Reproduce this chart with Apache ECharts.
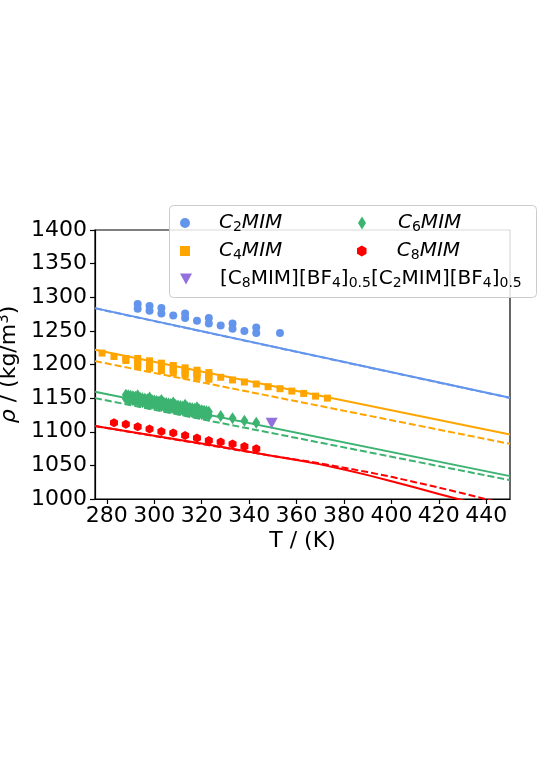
<!DOCTYPE html>
<html><head><meta charset="utf-8">
<script src="https://cdn.jsdelivr.net/npm/echarts@6/dist/echarts.min.js"></script>
<style>html,body{margin:0;padding:0;background:#fff}#c{width:538px;height:760px}</style>
</head><body><div id="c"></div>
<script>
// ---- data ----
const xTicks = [280, 300, 320, 340, 360, 380, 400, 420, 440];
const yTicks = [1000, 1050, 1100, 1150, 1200, 1250, 1300, 1350, 1400];

const c2T   = [293, 293, 298, 298, 303, 303, 308, 313, 313, 318, 323, 323, 328, 333, 333, 338, 343, 343, 353];
const c2Rho = [1290, 1283, 1287, 1280, 1284, 1276, 1273, 1276, 1269, 1265, 1269, 1261, 1258, 1261, 1253, 1250, 1255, 1247, 1247];

const c4T   = [278, 283, 288, 288,
  293, 293, 293, 293, 298, 298, 298, 298, 303, 303, 303, 303, 308, 308, 308, 308,
  313, 313, 313, 313, 318, 318, 318, 318, 323, 323, 323, 323,
  328, 333, 338, 343, 348, 353, 358, 363, 368, 373];
const c4Rho = [1217, 1212, 1209, 1206,
  1209, 1205, 1201, 1198, 1205.5, 1201.5, 1198, 1194.5, 1202, 1198, 1194.5, 1191, 1198.5, 1194.5, 1191, 1187.5,
  1195, 1191, 1187.5, 1184, 1191.5, 1188, 1184.5, 1181, 1188, 1184.5, 1181, 1178,
  1181, 1177, 1174, 1171, 1167, 1164, 1160.5, 1157, 1153, 1150];

const c6T = [288, 288, 289, 289, 290, 290, 291, 291, 292, 292, 293, 293, 293, 294, 294, 295, 295,
  296, 296, 297, 297, 298, 298, 298, 299, 299, 300, 300, 301, 301, 302, 302, 303, 303, 303,
  304, 304, 305, 305, 306, 306, 307, 307, 308, 308, 308, 309, 309, 310, 310, 311, 311, 312, 312,
  313, 313, 313, 314, 314, 315, 315, 316, 316, 317, 317, 318, 318, 318, 319, 319, 320, 320,
  321, 321, 322, 322, 323, 323, 328, 333, 338, 343];
const c6Rho = [1155.0, 1149.0, 1154.3, 1148.3, 1153.6, 1147.6, 1152.8, 1146.8, 1152.1, 1146.1, 1154.4, 1151.4, 1145.4,
  1150.7, 1144.7, 1150.0, 1144.0, 1149.2, 1143.2, 1148.5, 1142.5, 1150.8, 1147.8, 1141.8, 1147.1, 1141.1,
  1146.4, 1140.4, 1145.6, 1139.6, 1144.9, 1138.9, 1147.2, 1144.2, 1138.2, 1143.5, 1137.5, 1142.8, 1136.8,
  1142.0, 1136.0, 1141.3, 1135.3, 1143.6, 1140.6, 1134.6, 1139.9, 1133.9, 1139.2, 1133.2, 1138.4, 1132.4,
  1137.7, 1131.7, 1140.0, 1137.0, 1131.0, 1136.3, 1130.3, 1135.6, 1129.6, 1134.8, 1128.8, 1134.1, 1128.1,
  1136.4, 1133.4, 1127.4, 1132.7, 1126.7, 1132.0, 1126.0, 1131.2, 1125.2, 1130.5, 1124.5, 1129.8, 1123.8,
  1123.4, 1120, 1116.5, 1113.5];

const c8T   = [283, 288, 293, 298, 303, 308, 313, 318, 323, 328, 333, 338, 343];
const c8Rho = [1113.5, 1111, 1107.6, 1104, 1100.5, 1098, 1094.5, 1090.6, 1087, 1084.6, 1081.7, 1078, 1074.6];

const mixT   = [349.5];
const mixRho = [1112.6];

const fitT = [275, 450];
const c2Fit = [1283.8, 1150.7];
const c2FitDash = [1283.5, 1150.3];
const c4Fit = [1222, 1096];
const c4FitDash = [1205, 1082];
const c6Fit = [1159.6, 1034];
const c6FitDash = [1150, 1028];
const c8FitT = [275, 300, 325, 350, 360, 370, 380, 390, 400, 410, 420, 428, 450];
const c8Fit  = [1108.5, 1094, 1079.5, 1064, 1058, 1051.5, 1044, 1035.5, 1026.5, 1017, 1007.5, 1000, 979];
const c8FitDashT = [275, 350, 360, 370, 380, 390, 400, 410, 420, 430, 440, 450];
const c8FitDash  = [1108.5, 1064, 1058.5, 1053, 1046.5, 1040, 1033, 1025, 1017, 1008.5, 999.5, 991];

const legendText = {
  C2MIM: '{g|}{i|C}{s|2}{i|MIM}',
  C4MIM: '{g|}{i|C}{s|4}{i|MIM}',
  C6MIM: '{g|}{i|C}{s|6}{i|MIM}',
  C8MIM: '{g|}{i|C}{s|8}{i|MIM}',
  mix: '{g|}{r|[C}{s|8}{r|MIM][BF}{s|4}{r|]}{s|0.5}{r|[C}{s|2}{r|MIM][BF}{s|4}{r|]}{s|0.5}'
};

// ---- styles ----
const FONT = 'DejaVu Sans';
const colors = {C2MIM: '#6495ED', C4MIM: '#FFA500', C6MIM: '#3CB371', C8MIM: '#FF0000', mix: '#9370DB'};
const hexagon = 'path://M0,-1 L0.866,-0.5 L0.866,0.5 L0,1 L-0.866,0.5 L-0.866,-0.5 Z';
const triDown = 'path://M0,0 L10,0 L5,9 Z';

const zip = (a, b) => a.map((v, i) => [v, b[i]]);

function fitLine(xs, ys, color, dashed) {
  return {
    type: 'line', data: zip(xs, ys), showSymbol: false, symbol: 'none', silent: true,
    lineStyle: {color: color, width: 2, type: dashed ? [7, 3] : 'solid'},
    z: 2, animation: false, clip: true
  };
}
function scat(name, xs, ys, symbol, size) {
  return {
    type: 'scatter', name: name, data: zip(xs, ys), symbol: symbol, symbolSize: size,
    itemStyle: {color: colors[name], opacity: 1}, z: 3, animation: false
  };
}
function legendItem(name, left, top, w, h, gap) {
  return {
    data: [name], left: left, top: top, padding: 0, itemWidth: w, itemHeight: h, itemGap: 0,
    selectedMode: false, z: 6,
    formatter: n => legendText[n],
    textStyle: {
      fontFamily: FONT, color: '#000',
      rich: {
        g: {width: gap},
        i: {fontStyle: 'italic', fontSize: 20, fontFamily: FONT, color: '#000'},
        r: {fontSize: 20, fontFamily: FONT, color: '#000'},
        s: {fontSize: 14, fontFamily: FONT, color: '#000', padding: [9, 0, 0, 0]}
      }
    }
  };
}

const chart = echarts.init(document.getElementById('c'), null, {renderer: 'canvas'});
chart.setOption({
  animation: false,
  backgroundColor: '#fff',
  grid: {left: 95, right: 28, top: 230, bottom: 261, containLabel: false, outerBoundsMode: 'none',
         show: true, borderColor: '#000', borderWidth: 1.2, backgroundColor: 'transparent'},
  xAxis: {
    type: 'value', min: 275, max: 450,
    name: 'T / (K)', nameLocation: 'middle', nameGap: 31,
    nameTextStyle: {fontFamily: FONT, fontSize: 22, color: '#000'},
    axisLine: {show: true, lineStyle: {color: '#000', width: 1.2}},
    axisTick: {show: true, length: 5, lineStyle: {color: '#000', width: 1.2}, customValues: xTicks},
    axisLabel: {fontFamily: FONT, fontSize: 22, color: '#000', margin: 6, customValues: xTicks,
                formatter: v => String(v)},
    splitLine: {show: false}
  },
  yAxis: {
    type: 'value', min: 1000, max: 1400, interval: 50,
    name: '{it|ρ} / (kg/m{sup|3})', nameLocation: 'middle', nameGap: 64, nameRotate: 90,
    nameTextStyle: {fontFamily: FONT, fontSize: 22, color: '#000',
      rich: {it: {fontStyle: 'italic', fontSize: 22, fontFamily: FONT, color: '#000'},
             sup: {fontSize: 15, fontFamily: FONT, color: '#000', padding: [0, 0, 10, 0]}}},
    axisLine: {show: true, lineStyle: {color: '#000', width: 1.2}},
    axisTick: {show: true, length: 5, lineStyle: {color: '#000', width: 1.2}, customValues: yTicks},
    axisLabel: {fontFamily: FONT, fontSize: 22, color: '#000', margin: 8, customValues: yTicks,
                formatter: v => String(v)},
    splitLine: {show: false}
  },
  graphic: [{
    type: 'rect', left: 169, top: 205, z: 5,
    shape: {width: 367, height: 92, r: 4},
    style: {fill: 'rgba(255,255,255,0.85)', stroke: '#cccccc', lineWidth: 1}
  }],
  legend: [
    legendItem('C2MIM', 180, 213, 10, 10, 24),
    legendItem('C6MIM', 358, 213, 8, 13, 27),
    legendItem('C4MIM', 180, 241, 10, 10, 24),
    legendItem('C8MIM', 357, 241, 10, 11, 25),
    legendItem('mix', 180, 269, 12, 11, 23)
  ],
  series: [
    fitLine(fitT, c2Fit, colors.C2MIM, false),
    fitLine(fitT, c2FitDash, colors.C2MIM, true),
    fitLine(fitT, c4Fit, colors.C4MIM, false),
    fitLine(fitT, c4FitDash, colors.C4MIM, true),
    fitLine(fitT, c6Fit, colors.C6MIM, false),
    fitLine(fitT, c6FitDash, colors.C6MIM, true),
    fitLine(c8FitT, c8Fit, colors.C8MIM, false),
    fitLine(c8FitDashT, c8FitDash, colors.C8MIM, true),
    scat('C2MIM', c2T, c2Rho, 'circle', 8),
    scat('C4MIM', c4T, c4Rho, 'rect', 7),
    scat('C6MIM', c6T, c6Rho, 'diamond', [8, 12]),
    scat('C8MIM', c8T, c8Rho, hexagon, [8, 9]),
    scat('mix', mixT, mixRho, triDown, [12, 11])
  ]
});
</script></body></html>
